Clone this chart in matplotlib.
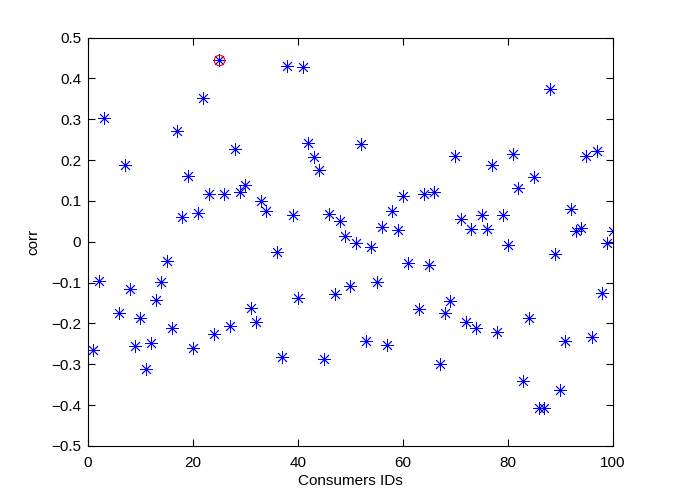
import matplotlib
matplotlib.use("Agg")
import matplotlib.pyplot as plt
import numpy as np

ids = [1, 2, 3, 6, 7, 8, 9, 10, 11, 12, 13, 14, 15, 16, 17, 18, 19, 20,
       21, 22, 23, 24, 25, 26, 27, 28, 29, 30, 31, 32, 33, 34, 36, 37, 38,
       39, 40, 41, 42, 43, 44, 45, 46, 47, 48, 49, 50, 51, 52, 53, 54, 55,
       56, 57, 58, 59, 60, 61, 63, 64, 65, 66, 67, 68, 69, 70, 71, 72, 73,
       74, 75, 76, 77, 78, 79, 80, 81, 82, 83, 84, 85, 86, 87, 88, 89, 90,
       91, 92, 93, 94, 95, 96, 97, 98, 99, 100]
corr = [-0.265, -0.096, 0.302, -0.174, 0.189, -0.115, -0.256, -0.186, -0.312,
        -0.248, -0.143, -0.098, -0.048, -0.212, 0.271, 0.060, 0.160, -0.261,
        0.071, 0.351, 0.116, -0.227, 0.446, 0.117, -0.206, 0.227, 0.121,
        0.138, -0.162, -0.196, 0.100, 0.075, -0.025, -0.282, 0.430, 0.066,
        -0.139, 0.429, 0.241, 0.207, 0.176, -0.287, 0.069, -0.128, 0.051,
        0.015, -0.108, -0.002, 0.239, -0.243, -0.014, -0.098, 0.036, -0.252,
        0.076, 0.029, 0.113, -0.053, -0.165, 0.118, -0.057, 0.122, -0.300,
        -0.175, -0.144, 0.211, 0.056, -0.196, 0.030, -0.212, 0.065, 0.031,
        0.187, -0.221, 0.066, -0.007, 0.216, 0.132, -0.342, -0.188, 0.158,
        -0.407, -0.408, 0.374, -0.030, -0.362, -0.243, 0.080, 0.027, 0.034,
        0.211, -0.234, 0.223, -0.125, -0.003, 0.027]
best_id = [25]
best_corr = [0.446]

x_ticks = [0, 20, 40, 60, 80, 100]
y_ticks = [-0.5, -0.4, -0.3, -0.2, -0.1, 0, 0.1, 0.2, 0.3, 0.4, 0.5]
y_labels = ["\u22120.5", "\u22120.4", "\u22120.3", "\u22120.2", "\u22120.1", "0",
            "0.1", "0.2", "0.3", "0.4", "0.5"]

plt.rcParams['font.family'] = ['Liberation Sans', 'DejaVu Sans']
fig = plt.figure(figsize=(6.77, 5.01), dpi=100)
ax = fig.add_axes([0.13, 0.11, 0.775, 0.815])

ax.plot(ids, corr, linestyle='none', marker=(8, 2, 0), markersize=9,
        markeredgecolor='blue', markeredgewidth=0.6, color='blue')
ax.plot(best_id, best_corr, linestyle='none', marker='o', markersize=7.5,
        markerfacecolor='none', markeredgecolor='red', markeredgewidth=0.8)

ax.set_xlim(0, 100)
ax.set_ylim(-0.5, 0.5)
ax.set_xticks(x_ticks)
ax.set_xticklabels([str(t) for t in x_ticks])
ax.set_yticks(y_ticks)
ax.set_yticklabels(y_labels)
ax.tick_params(direction='in', top=True, right=True, length=5, width=0.8,
               labelsize=11)
ax.tick_params(axis='x', pad=7)
ax.tick_params(axis='y', pad=5)
for s in ax.spines.values():
    s.set_linewidth(0.8)
ax.set_xlabel('Consumers IDs', fontsize=11, labelpad=3)
ax.set_ylabel('corr', fontsize=11, labelpad=8)

fig.savefig('out.png', dpi=100)
